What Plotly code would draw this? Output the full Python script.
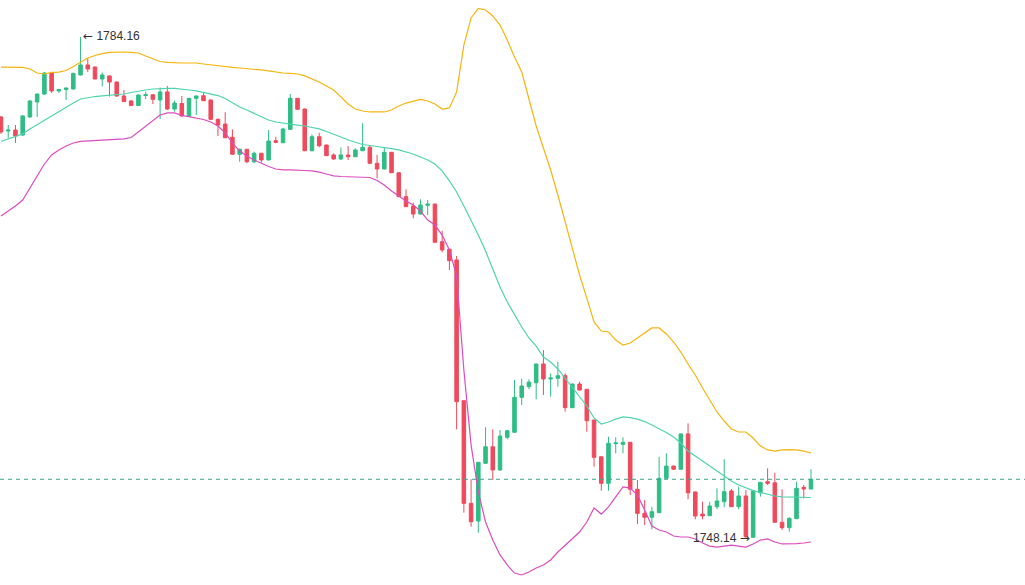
import plotly.graph_objects as go

opens = [1778.41,1777.40,1777.47,1777.11,1778.41,1779.49,1780.06,1781.57,1780.28,1780.39,
         1780.42,1781.43,1782.15,1782.00,1781.14,1781.36,1780.92,1779.92,1779.56,1779.23,
         1779.95,1780.01,1779.63,1780.21,1778.98,1779.38,1778.44,1779.75,1779.94,1779.63,
         1778.24,1777.90,1776.95,1775.73,1776.09,1775.19,1775.80,1775.32,1776.70,1776.56,
         1777.52,1779.75,1778.98,1775.98,1776.99,1776.39,1775.68,1775.39,1775.68,1775.55,
         1775.98,1776.23,1775.08,1774.67,1775.87,1774.40,1772.68,1772.01,1771.43,1772.06,
         1772.15,1769.44,1768.90,1768.13,1758.01,1750.63,1749.36,1753.51,1754.70,1753.03,
         1755.38,1755.74,1758.25,1759.02,1759.30,1760.65,1759.57,1759.62,1759.81,1757.51,
         1759.21,1758.83,1756.62,1753.98,1752.07,1754.92,1754.87,1755.02,1751.64,1749.91,
         1749.63,1749.96,1752.43,1753.31,1753.08,1755.62,1751.45,1749.86,1749.74,1750.39,
         1750.75,1751.52,1750.39,1751.16,1748.19,1751.39,1752.19,1752.11,1749.27,1748.88,
         1749.53,1751.78,1751.66]
highs = [1778.48,1777.83,1777.83,1778.55,1779.63,1780.08,1781.64,1781.64,1780.42,1780.53,
         1781.61,1784.16,1782.65,1782.03,1781.61,1781.39,1780.96,1780.35,1779.63,1780.03,
         1780.23,1780.06,1780.53,1780.64,1779.59,1779.92,1779.77,1779.95,1780.15,1779.67,
         1778.30,1778.75,1777.52,1776.14,1776.11,1775.91,1775.82,1777.47,1776.99,1777.64,
         1780.06,1779.77,1779.02,1777.16,1777.28,1776.43,1775.80,1776.23,1776.32,1776.16,
         1777.95,1776.39,1775.68,1776.23,1775.89,1774.42,1773.21,1772.25,1772.49,1772.44,
         1772.17,1770.23,1768.92,1768.41,1758.02,1752.36,1753.60,1756.10,1755.95,1755.90,
         1755.90,1759.50,1759.59,1759.55,1760.68,1761.65,1759.98,1760.81,1759.98,1759.23,
         1759.38,1758.85,1756.64,1754.00,1755.42,1755.38,1755.38,1755.04,1752.31,1750.87,
         1750.39,1753.98,1754.23,1753.35,1755.64,1756.38,1751.48,1750.75,1750.75,1751.71,
         1753.80,1751.66,1751.83,1751.59,1751.55,1752.16,1753.15,1752.83,1751.64,1749.63,
         1752.19,1751.95,1753.08]
lows = [1777.19,1776.90,1776.54,1777.04,1778.34,1778.41,1779.99,1780.13,1780.13,1779.63,
        1780.39,1781.40,1781.64,1781.12,1780.60,1779.88,1779.85,1779.49,1779.20,1779.20,
        1779.70,1779.34,1778.26,1778.91,1778.80,1778.44,1778.41,1778.55,1779.56,1778.19,
        1777.04,1776.90,1775.68,1775.19,1775.08,1775.08,1775.12,1775.30,1776.52,1776.52,
        1777.51,1778.95,1775.96,1775.96,1776.23,1775.60,1775.32,1775.32,1775.32,1775.53,
        1775.96,1775.06,1774.00,1774.63,1774.38,1772.66,1771.94,1771.12,1771.40,1771.36,
        1769.38,1768.68,1767.41,1755.95,1749.96,1748.95,1748.52,1753.49,1752.31,1752.96,
        1755.23,1755.72,1757.70,1758.83,1758.11,1758.42,1758.30,1759.02,1757.22,1757.49,
        1758.74,1755.78,1753.26,1751.54,1751.54,1754.23,1754.23,1751.23,1749.14,1749.07,
        1748.76,1749.94,1752.42,1753.03,1753.06,1750.92,1749.48,1749.48,1749.72,1750.20,
        1750.35,1750.37,1750.20,1748.14,1748.17,1751.11,1751.95,1749.25,1748.71,1748.59,
        1749.50,1750.99,1751.63]
closes = [1777.33,1777.47,1777.04,1778.48,1779.56,1780.06,1781.57,1780.28,1780.39,1780.49,
          1781.54,1782.15,1781.86,1781.14,1781.43,1780.92,1779.92,1779.52,1779.23,1779.99,
          1780.01,1779.68,1780.21,1778.98,1779.41,1778.48,1779.75,1779.92,1779.58,1778.24,
          1777.83,1776.92,1775.73,1776.09,1775.19,1775.80,1775.32,1776.68,1776.59,1777.54,
          1779.75,1778.96,1775.98,1776.99,1776.34,1775.63,1775.39,1775.68,1775.55,1776.04,
          1776.23,1775.08,1774.67,1775.87,1774.40,1772.68,1771.96,1771.43,1772.08,1772.15,
          1769.40,1768.85,1768.08,1757.94,1750.63,1749.31,1753.58,1754.70,1753.03,1755.47,
          1755.85,1758.25,1759.07,1759.35,1760.65,1759.57,1759.64,1759.81,1757.51,1759.21,
          1758.78,1756.57,1753.94,1752.07,1754.95,1754.97,1755.02,1751.64,1749.91,1749.63,
          1750.03,1752.43,1753.31,1753.08,1755.62,1751.39,1749.72,1749.72,1750.44,1750.80,
          1751.47,1750.39,1751.16,1748.23,1751.52,1752.14,1752.07,1749.27,1748.88,1749.55,
          1751.71,1751.66,1752.36]

boll_upper = [1782.00,1782.00,1782.00,1781.97,1781.86,1781.57,1781.50,1781.61,1781.64,1781.75,
              1782.04,1782.36,1782.65,1782.83,1782.97,1783.05,1783.08,1783.08,1783.05,1783.01,
              1782.79,1782.58,1782.40,1782.33,1782.29,1782.29,1782.29,1782.29,1782.22,1782.15,
              1782.07,1782.00,1781.97,1781.93,1781.90,1781.86,1781.79,1781.72,1781.64,1781.57,
              1781.54,1781.50,1781.36,1781.14,1780.92,1780.64,1780.35,1779.85,1779.34,1778.98,
              1778.84,1778.77,1778.77,1778.77,1778.91,1779.20,1779.41,1779.56,1779.67,1779.56,
              1779.34,1778.98,1779.06,1780.21,1783.58,1785.53,1786.21,1786.10,1785.67,1785.02,
              1783.94,1782.72,1781.64,1779.70,1777.76,1776.18,1774.60,1772.80,1770.86,1768.85,
              1767.05,1765.39,1763.67,1763.02,1762.95,1762.37,1762.01,1762.16,1762.52,1762.88,
              1763.24,1763.24,1762.81,1762.23,1761.51,1760.65,1759.86,1758.92,1758.06,1757.20,
              1756.55,1755.98,1755.76,1755.76,1755.33,1754.75,1754.47,1754.39,1754.47,1754.50,
              1754.47,1754.39,1754.25]
boll_mid = [1776.65,1776.83,1777.01,1777.19,1777.55,1777.87,1778.19,1778.48,1778.77,1779.13,
            1779.41,1779.70,1779.81,1779.88,1779.92,1779.95,1779.99,1780.06,1780.17,1780.28,
            1780.35,1780.42,1780.46,1780.47,1780.46,1780.42,1780.35,1780.28,1780.17,1780.10,
            1779.95,1779.74,1779.45,1779.13,1778.91,1778.66,1778.41,1778.19,1778.05,1777.96,
            1777.90,1777.83,1777.76,1777.65,1777.55,1777.37,1777.19,1776.97,1776.75,1776.57,
            1776.43,1776.36,1776.30,1776.25,1776.14,1776.04,1775.89,1775.75,1775.53,1775.32,
            1775.03,1774.53,1773.81,1773.02,1772.01,1771.00,1769.92,1768.77,1767.41,1766.18,
            1765.11,1764.17,1763.31,1762.52,1761.94,1761.15,1760.79,1760.29,1759.64,1758.99,
            1758.35,1757.63,1756.77,1756.33,1756.48,1756.69,1756.84,1756.80,1756.69,1756.51,
            1756.26,1756.01,1755.72,1755.40,1754.97,1754.39,1754.03,1753.67,1753.31,1752.96,
            1752.56,1752.24,1751.95,1751.73,1751.55,1751.41,1751.27,1751.16,1751.09,1751.09,
            1751.09,1751.09,1751.05]
boll_lower = [1771.29,1771.65,1772.01,1772.44,1773.30,1774.24,1775.03,1775.68,1776.04,1776.32,
              1776.54,1776.65,1776.68,1776.72,1776.75,1776.75,1776.79,1776.83,1776.93,1777.33,
              1777.76,1778.19,1778.55,1778.70,1778.70,1778.52,1778.41,1778.34,1778.23,1778.05,
              1777.76,1777.26,1776.54,1775.96,1775.60,1775.32,1775.06,1774.85,1774.67,1774.60,
              1774.60,1774.60,1774.56,1774.53,1774.45,1774.31,1774.17,1774.13,1774.12,1774.12,
              1774.12,1774.06,1773.84,1773.52,1773.09,1772.73,1772.37,1772.08,1771.65,1771.00,
              1770.64,1769.92,1768.85,1766.98,1760.22,1754.82,1751.45,1749.29,1747.99,1746.92,
              1746.20,1745.62,1745.48,1745.69,1745.98,1746.20,1746.56,1747.13,1747.63,1748.14,
              1748.57,1749.29,1750.30,1749.86,1750.37,1751.09,1751.81,1751.73,1751.23,1750.15,
              1749.00,1748.71,1748.57,1748.28,1748.21,1748.21,1748.07,1747.78,1747.56,1747.49,
              1747.56,1747.63,1747.56,1747.49,1747.71,1747.99,1748.07,1747.85,1747.71,1747.71,
              1747.74,1747.78,1747.85]

n = len(closes)
idx = list(range(n))

UP = "#2ebd85"
DOWN = "#ef4a5c"

fig = go.Figure()
fig.add_trace(go.Scatter(x=idx, y=boll_upper, mode="lines",
                         line=dict(color="#f5b50f", width=1.2), hoverinfo="skip"))
fig.add_trace(go.Scatter(x=idx, y=boll_mid, mode="lines",
                         line=dict(color="#4fd4ad", width=1.2), hoverinfo="skip"))
fig.add_trace(go.Scatter(x=idx, y=boll_lower, mode="lines",
                         line=dict(color="#dc4cbd", width=1.2), hoverinfo="skip"))
fig.add_trace(go.Candlestick(
    x=idx, open=opens, high=highs, low=lows, close=closes,
    increasing=dict(line=dict(color=UP, width=1), fillcolor=UP),
    decreasing=dict(line=dict(color=DOWN, width=1), fillcolor=DOWN),
    whiskerwidth=0, hoverinfo="skip"))

# last price dashed line
fig.add_shape(type="line", xref="paper", x0=0, x1=1, yref="y",
              y0=closes[-1], y1=closes[-1],
              line=dict(color="#3aa58a", width=1, dash="4px,4px"))

ARROW = "<span style=\"font-family:'DejaVu Sans'\">%s</span>"
hi_i = max(range(n), key=lambda i: highs[i])
lo_i = min(range(n), key=lambda i: lows[i])
fig.add_annotation(x=hi_i, y=highs[hi_i], text=(ARROW % "←") + " %.2f" % highs[hi_i],
                   showarrow=False, xanchor="left", yanchor="middle",
                   xshift=0, yshift=1, font=dict(size=12, color="#333333",
                                                 family="Liberation Sans, Arial"))
fig.add_annotation(x=lo_i, y=lows[lo_i], text="%.2f " % lows[lo_i] + (ARROW % "→"),
                   showarrow=False, xanchor="right", yanchor="middle",
                   xshift=6, yshift=0, font=dict(size=12, color="#333333",
                                                 family="Liberation Sans, Arial"))

fig.update_layout(
    width=1025, height=585,
    margin=dict(l=0, r=0, t=0, b=0),
    paper_bgcolor="white", plot_bgcolor="white",
    showlegend=False,
    xaxis=dict(range=[-0.138, 141.59], visible=False, showgrid=False,
               rangeslider=dict(visible=False), fixedrange=True),
    yaxis=dict(range=[1744.76, 1786.82], visible=False, showgrid=False, fixedrange=True),
)

fig.write_html("out.html")
